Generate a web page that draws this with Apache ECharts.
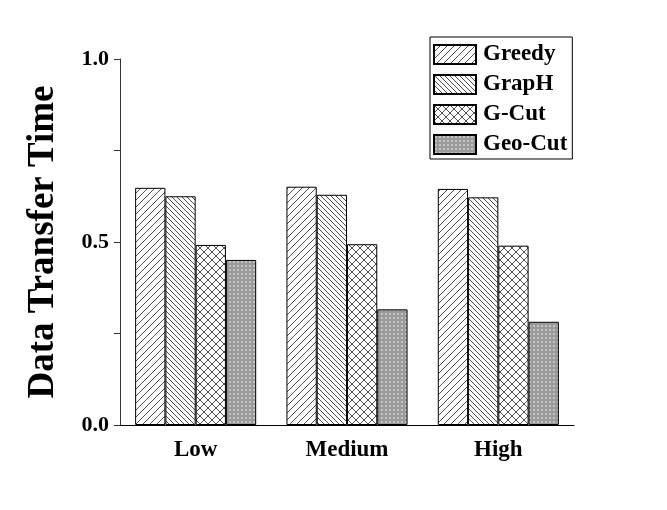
<!DOCTYPE html>
<html>
<head>
<meta charset="utf-8">
<script src="https://cdn.jsdelivr.net/npm/echarts@6/dist/echarts.min.js"></script>
<style>html,body{margin:0;padding:0;background:#fff}#c{width:667px;height:510px}</style>
</head>
<body>
<div id="c"></div>
<script>
var categories = ['Low', 'Medium', 'High'];
var seriesNames = ['Greedy', 'GrapH', 'G-Cut', 'Geo-Cut'];
var greedy = [0.648, 0.651, 0.645];
var graph = [0.625, 0.629, 0.622];
var gcut = [0.492, 0.494, 0.490];
var geocut = [0.451, 0.316, 0.282];
var yTickLabels = ['0.0', '0.5', '1.0'];

function makeCanvas(s) {
  var c = document.createElement('canvas');
  c.width = s; c.height = s;
  var g = c.getContext('2d');
  g.fillStyle = '#fff'; g.fillRect(0, 0, s, s);
  return {c: c, g: g};
}
function fwd() {
  var s = 7, o = makeCanvas(s), g = o.g;
  g.strokeStyle = '#222'; g.lineWidth = 0.8;
  g.beginPath();
  g.moveTo(0, s); g.lineTo(s, 0);
  g.moveTo(-1, 1); g.lineTo(1, -1);
  g.moveTo(s - 1, s + 1); g.lineTo(s + 1, s - 1);
  g.stroke();
  return o.c;
}
function back() {
  var s = 5, o = makeCanvas(s), g = o.g;
  g.strokeStyle = '#222'; g.lineWidth = 0.8;
  g.beginPath();
  g.moveTo(0, 0); g.lineTo(s, s);
  g.moveTo(s - 1, -1); g.lineTo(s + 1, 1);
  g.moveTo(-1, s - 1); g.lineTo(1, s + 1);
  g.stroke();
  return o.c;
}
function cross() {
  var s = 8, o = makeCanvas(s), g = o.g;
  g.strokeStyle = '#222'; g.lineWidth = 0.8;
  g.beginPath();
  g.moveTo(0, 0); g.lineTo(s, s);
  g.moveTo(0, s); g.lineTo(s, 0);
  g.stroke();
  return o.c;
}
function dots() {
  var s = 4, o = makeCanvas(s), g = o.g;
  g.fillStyle = '#9a9a9a'; g.fillRect(0, 0, s, s);
  g.fillStyle = '#c4c4c4'; g.fillRect(1, 1, 2, 2);
  return o.c;
}
var patterns = [fwd(), back(), cross(), dots()];
var dataSets = [greedy, graph, gcut, geocut];
var font = 'Liberation Serif';

var series = seriesNames.map(function (n, i) {
  return {
    name: n,
    type: 'bar',
    data: dataSets[i],
    barGap: '0%',
    barCategoryGap: '20%',
    itemStyle: {
      color: {image: patterns[i], repeat: 'repeat'},
      borderColor: '#000',
      borderWidth: 1
    }
  };
});

var chart = echarts.init(document.getElementById('c'));
chart.setOption({
  animation: false,
  backgroundColor: '#fff',
  grid: {left: 120, right: 93, top: 59, bottom: 85},
  legend: {
    orient: 'vertical',
    left: 430, top: 37,
    itemWidth: 42, itemHeight: 19, itemGap: 7,
    padding: [6, 5, 3, 3],
    borderColor: '#000', borderWidth: 1,
    icon: 'rect',
    textStyle: {fontFamily: font, fontWeight: 'bold', fontSize: 23, color: '#000', padding: [0, 0, 0, 2]},
    data: seriesNames
  },
  xAxis: {
    type: 'category',
    data: categories,
    axisLine: {lineStyle: {color: '#000', width: 1}},
    axisTick: {alignWithLabel: true, length: 7, lineStyle: {color: '#000', width: 1.5}},
    axisLabel: {fontFamily: font, fontWeight: 'bold', fontSize: 23, color: '#000', margin: 14}
  },
  yAxis: {
    type: 'value',
    min: 0, max: 1, interval: 0.25,
    name: 'Data Transfer Time',
    nameLocation: 'middle',
    nameGap: 58,
    nameTextStyle: {fontFamily: font, fontWeight: 'bold', fontSize: 37, color: '#000'},
    splitLine: {show: false},
    axisLine: {show: true, lineStyle: {color: '#333', width: 1}},
    axisTick: {show: true, length: 6, lineStyle: {color: '#333'}},
    axisLabel: {
      fontFamily: font, fontWeight: 'bold', fontSize: 22, color: '#000', margin: 11,
      formatter: function (v) {
        var idx = Math.round(v * 2);
        if (Math.abs(v * 2 - idx) < 1e-6) return yTickLabels[idx];
        return '';
      }
    }
  },
  series: series
});
</script>
</body>
</html>
